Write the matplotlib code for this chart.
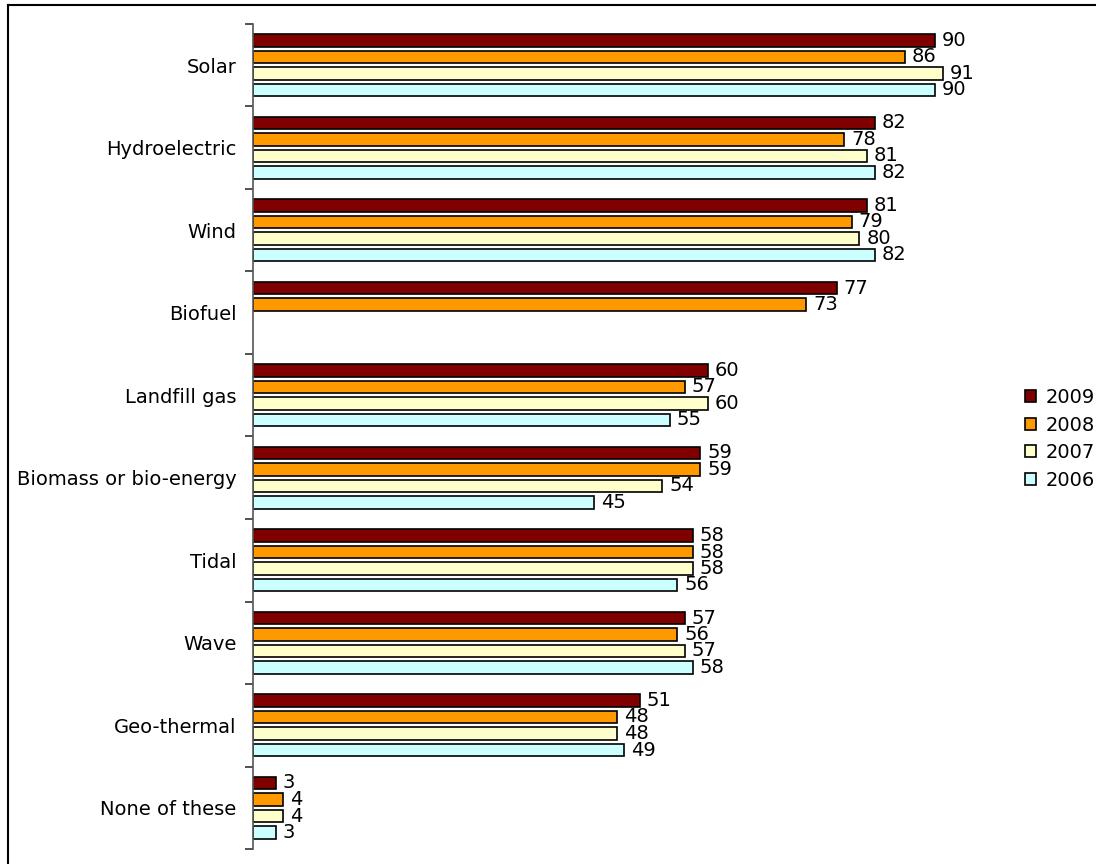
import numpy as np
import matplotlib
matplotlib.use("Agg")
import matplotlib.pyplot as plt
from matplotlib.lines import Line2D

categories = ["Solar", "Hydroelectric", "Wind", "Biofuel", "Landfill gas",
              "Biomass or bio-energy", "Tidal", "Wave", "Geo-thermal", "None of these"]
years = ["2009", "2008", "2007", "2006"]
v2009 = [90, 82, 81, 77, 60, 59, 58, 57, 51, 3]
v2008 = [86, 78, 79, 73, 57, 59, 58, 56, 48, 4]
v2007 = [91, 81, 80, None, 60, 54, 58, 57, 48, 4]
v2006 = [90, 82, 82, None, 55, 45, 56, 58, 49, 3]
series = [v2009, v2008, v2007, v2006]
colors = ["#800000", "#FF9900", "#FFFFCC", "#CCFFFF"]

plt.rcParams['font.family'] = ['DejaVu Sans']
fig = plt.figure(figsize=(10.96, 8.64), dpi=100)
ax = fig.add_axes([253/1096, 1-849/864, (1011-253)/1096, (849-24)/864])

n = len(categories)
centers = np.arange(n)
offsets = [-0.3, -0.1, 0.1, 0.3]
bh = 0.15
fs = 14

for vals, col, off, yr in zip(series, colors, offsets, years):
    ys, xs = [], []
    for i, v in enumerate(vals):
        if v is None:
            continue
        ys.append(centers[i] + off)
        xs.append(v)
    ax.barh(ys, xs, height=bh, color=col, edgecolor="black", linewidth=1.2, label=yr)
    for y, x in zip(ys, xs):
        ax.text(x + 0.9, y, str(x), va="center", ha="left", fontsize=fs, color="black")

ax.set_xlim(0, 100)
ax.set_ylim(n - 0.5, -0.5)
ax.set_yticks(centers)
ax.set_yticklabels(categories, fontsize=fs)
ax.set_yticks(np.arange(-0.5, n, 1), minor=True)
ax.tick_params(axis='y', which='major', length=0, pad=12)
ax.tick_params(axis='y', which='minor', length=6, width=1.2, color="#333333")
ax.set_xticks([])
for s in ["top", "right", "bottom"]:
    ax.spines[s].set_visible(False)
ax.spines["left"].set_color("#555555")
ax.spines["left"].set_linewidth(1.2)

leg = ax.legend(loc="upper left", bbox_to_anchor=(1025/1096, 1-388/864),
                bbox_transform=fig.transFigure, frameon=False, fontsize=fs,
                borderpad=0, borderaxespad=0,
                handlelength=0.55, handleheight=0.55, handletextpad=0.5, labelspacing=0.44)

fig.add_artist(Line2D([8/1096, 1], [1-5/864, 1-5/864], transform=fig.transFigure,
                      color="black", linewidth=1.5))
fig.add_artist(Line2D([8/1096, 8/1096], [0, 1-5/864], transform=fig.transFigure,
                      color="black", linewidth=1.5))

fig.savefig("out.png", dpi=100)
